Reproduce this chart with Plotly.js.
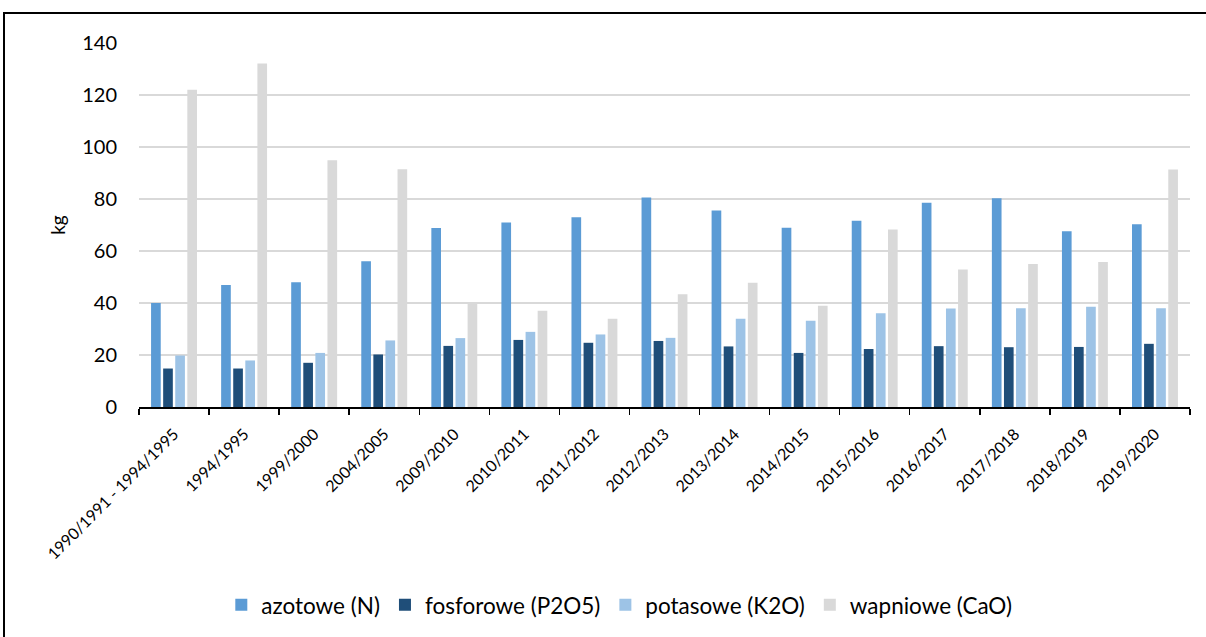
<!DOCTYPE html>
<html>
<head>
<meta charset="utf-8">
<script src="https://cdn.plot.ly/plotly-3.0.1.min.js"></script>
<style>html,body{margin:0;padding:0;background:#fff;}#chart{width:1206px;height:637px;}</style>
</head>
<body>
<div id="chart"></div>
<script>
const categories = ["1990/1991 - 1994/1995","1994/1995","1999/2000","2004/2005","2009/2010","2010/2011","2011/2012","2012/2013","2013/2014","2014/2015","2015/2016","2016/2017","2017/2018","2018/2019","2019/2020"];
const azotowe   = [40.0, 46.9, 48.0, 56.1, 68.8, 71.0, 73.0, 80.6, 75.6, 68.9, 71.6, 78.6, 80.3, 67.6, 70.3];
const fosforowe = [14.8, 14.8, 17.0, 20.2, 23.5, 25.8, 24.7, 25.4, 23.3, 20.8, 22.3, 23.4, 23.0, 23.1, 24.3];
const potasowe  = [19.8, 17.9, 20.8, 25.6, 26.5, 28.9, 27.9, 26.6, 33.9, 33.2, 36.1, 37.9, 38.0, 38.6, 38.0];
const wapniowe  = [122.0, 132.1, 94.9, 91.4, 39.9, 37.0, 33.9, 43.4, 47.8, 38.9, 68.3, 52.9, 55.0, 55.8, 91.3];
const seriesNames = ["azotowe (N)", "fosforowe (P2O5)", "potasowe (K2O)", "wapniowe (CaO)"];
const yTitle = "kg";

const colors = ["#5B9BD5", "#1F4E79", "#9DC3E6", "#D9D9D9"];
const data = [azotowe, fosforowe, potasowe, wapniowe].map((vals, i) => ({
  type: "bar", x: categories, y: vals, name: seriesNames[i],
  marker: {color: colors[i]}, hoverinfo: "x+y+name"
}));

const FONT = "Lato, 'Open Sans', sans-serif";
const layout = {
  width: 1206, height: 637,
  margin: {l: 139, r: 16, t: 43, b: 229},
  paper_bgcolor: "#fff", plot_bgcolor: "#fff",
  font: {family: FONT, color: "#000"},
  barmode: "group", bargap: 0.31, bargroupgap: 0.2,
  showlegend: true,
  legend: {orientation: "h", x: 0.457, xanchor: "center", y: -0.54, yanchor: "middle",
           font: {size: 22.5, family: FONT}, traceorder: "normal"},
  xaxis: {
    type: "category", tickangle: -45, tickfont: {size: 16, family: FONT},
    showline: true, linecolor: "#000", linewidth: 1.5,
    ticks: "outside", tickson: "boundaries", ticklen: 6, tickcolor: "#000", tickwidth: 1.5,
    ticklabelstandoff: 10,
    showgrid: false, zeroline: false, automargin: false
  },
  yaxis: {
    range: [0, 140], dtick: 20, tickfont: {size: 20, family: FONT},
    showgrid: true, gridcolor: "#D9D9D9", gridwidth: 1.5, zeroline: false,
    showline: false, ticks: "", ticklabelstandoff: 21,
    title: {text: yTitle, font: {size: 19, family: FONT}, standoff: 11},
    automargin: false
  },
  shapes: [{
    type: "rect", xref: "paper", yref: "paper",
    x0: (4 - 139) / 1051, x1: 1.2, y0: -1, y1: (408 - 13) / 365,
    line: {color: "#000", width: 2}, fillcolor: "rgba(0,0,0,0)", layer: "below"
  }]
};
Plotly.newPlot("chart", data, layout, {displayModeBar: false, staticPlot: true});
</script>
</body>
</html>
